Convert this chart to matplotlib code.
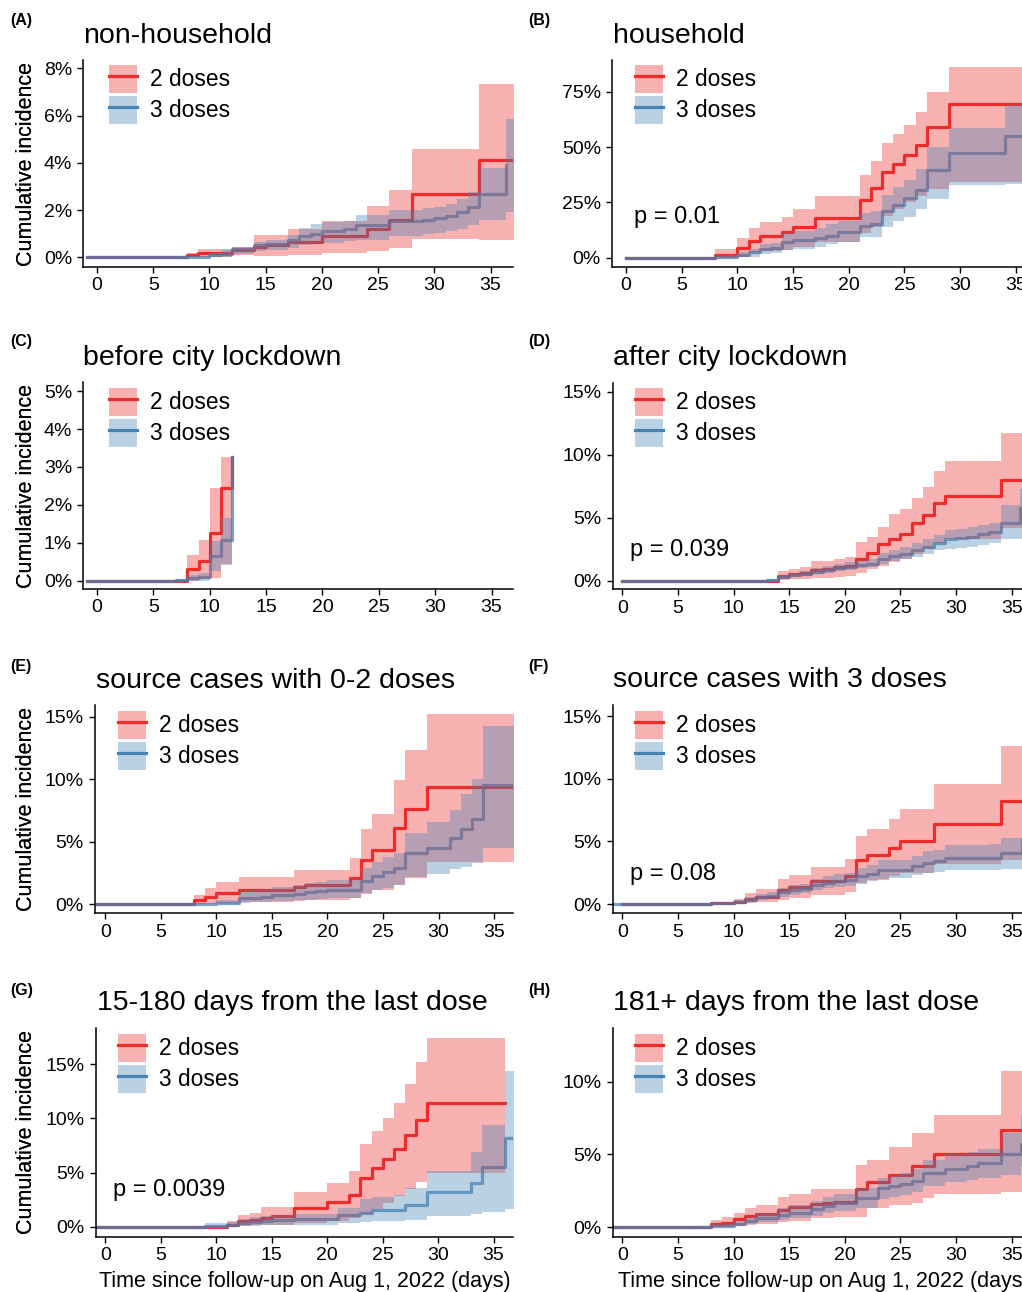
import numpy as np
import matplotlib
matplotlib.use('Agg')
import matplotlib.pyplot as plt
from matplotlib.patches import Patch
from matplotlib.lines import Line2D
from matplotlib.ticker import FuncFormatter

plt.rcParams['font.family'] = ['Liberation Sans', 'DejaVu Sans']

RED = '#EE2C2C'
BLUE = '#4682B4'
ALPHA = 0.37

# ---- data (cumulative incidence, %) ----
# (A) non-household
a2_t = [-0.9, 8, 9, 10, 12, 14, 15, 17, 18, 20, 24, 26, 28, 34]
a2_est = [0, 0.1, 0.17, 0.17, 0.3, 0.45, 0.5, 0.65, 0.65, 0.9, 1.2, 1.6, 2.7, 4.1]
a2_hi = [0, 0.17, 0.34, 0.34, 0.45, 0.95, 0.95, 1.18, 1.18, 1.55, 2.17, 2.85, 4.57, 7.32]
a2_lo = [0, 0, 0, 0.02, 0.1, 0.05, 0.06, 0.1, 0.1, 0.17, 0.27, 0.38, 0.76, 0.73]
a3_t = [-0.9, 7, 10, 11, 12, 14, 15, 17, 18, 19, 20, 22, 23, 26, 29, 30, 31, 32, 33, 34, 36.4]
a3_est = [0, 0.02, 0.1, 0.15, 0.35, 0.5, 0.55, 0.75, 0.9, 1.0, 1.1, 1.2, 1.35, 1.55, 1.6, 1.65, 1.75, 1.9, 2.15, 2.7, 3.9]
a3_hi = [0, 0.05, 0.2, 0.3, 0.45, 0.65, 0.72, 0.95, 1.25, 1.4, 1.5, 1.55, 1.77, 2.0, 2.1, 2.15, 2.25, 2.45, 2.75, 3.8, 5.85]
a3_lo = [0, 0, 0, 0.02, 0.15, 0.25, 0.3, 0.4, 0.5, 0.55, 0.6, 0.7, 0.75, 0.9, 1.0, 1.05, 1.1, 1.2, 1.35, 1.6, 1.9]

# (B) household
b2_t = [0, 8, 10, 11, 12, 14, 15, 17, 21, 22, 23, 24, 25, 26, 27, 29]
b2_est = [0, 1, 4.5, 7.5, 9.6, 11.6, 14, 18, 26, 31.6, 38.5, 42.5, 46.5, 51, 59, 69.5]
b2_hi = [0, 4, 9, 13.5, 16, 18.5, 22, 28, 37.5, 43.5, 52, 56, 60, 66, 75, 86]
b2_lo = [0, 0, 0.5, 2, 3, 3.5, 5, 7, 11, 14, 19, 22, 25, 28, 31, 34]
b3_t = [0, 8, 10, 11, 12, 13, 14, 15, 17, 18, 19, 21, 22, 23, 24, 25, 26, 27, 29, 34]
b3_est = [0, 0.3, 1, 2.5, 4, 4.5, 7.2, 8, 9, 10, 11.5, 14.5, 15, 21, 24, 27, 30.5, 39.5, 47.5, 55]
b3_hi = [0, 1, 2.5, 4, 6, 6.5, 11, 12, 13.5, 15, 16.5, 20, 21, 28.5, 32, 35, 40, 50, 58.7, 69]
b3_lo = [0, 0, 0.1, 0.5, 1.5, 2, 3.5, 4, 5, 6, 7, 9.5, 9.5, 14, 16.5, 18.5, 22, 26.5, 33, 33.5]

# (C) before city lockdown
c2_t = [-0.9, 8, 9, 10, 11, 12]
c2_est = [0, 0.3, 0.53, 1.27, 2.45, 3.25]
c2_hi = [0, 0.67, 1.08, 2.45, 3.25, 3.25]
c2_lo = [0, 0, 0.05, 0.06, 0.45, 0.45]
c3_t = [-0.9, 7, 8, 9, 10, 11, 12]
c3_est = [0, 0.02, 0.07, 0.1, 0.65, 1.07, 3.25]
c3_hi = [0, 0.05, 0.15, 0.2, 1.05, 1.65, 3.25]
c3_lo = [0, 0, 0, 0, 0.25, 0.42, 0.42]

# (D) after city lockdown
d2_t = [0, 14, 15, 16, 17, 18, 19, 20, 21, 22, 23, 24, 25, 26, 27, 28, 29, 34]
d2_est = [0, 0.35, 0.5, 0.6, 0.85, 0.9, 1.1, 1.2, 1.7, 2.2, 2.9, 3.3, 3.7, 4.6, 5.2, 6.2, 6.7, 8.0]
d2_hi = [0, 0.8, 0.95, 1.1, 1.6, 1.6, 1.7, 1.9, 3.1, 3.5, 4.3, 5.3, 5.7, 6.6, 7.4, 8.7, 9.5, 11.7]
d2_lo = [0, 0.05, 0.1, 0.12, 0.2, 0.22, 0.3, 0.35, 0.6, 0.9, 1.2, 1.5, 1.7, 2.1, 2.5, 3.0, 3.35, 4.15]
d3_t = [0, 13, 14, 15, 16, 17, 18, 19, 20, 21, 22, 23, 24, 25, 26, 27, 28, 29, 30, 31, 32, 33, 34, 35.75]
d3_est = [0, 0.05, 0.3, 0.45, 0.55, 0.7, 0.85, 1.0, 1.1, 1.25, 1.35, 1.7, 1.95, 2.15, 2.4, 2.7, 3.0, 3.3, 3.4, 3.5, 3.7, 3.9, 4.6, 5.8]
d3_hi = [0, 0.1, 0.45, 0.6, 0.8, 1.0, 1.15, 1.35, 1.45, 1.6, 1.75, 2.2, 2.45, 2.7, 3.0, 3.3, 3.6, 4.0, 4.1, 4.25, 4.4, 4.6, 6.0, 7.3]
d3_lo = [0, 0, 0.15, 0.3, 0.4, 0.5, 0.65, 0.8, 0.85, 1.0, 1.1, 1.35, 1.55, 1.7, 1.9, 2.15, 2.4, 2.5, 2.6, 2.7, 2.85, 3.0, 3.3, 3.3]

# (E) source cases with 0-2 doses
e2_t = [-0.93, 8, 9, 10, 12, 17, 18, 22, 23, 24, 26, 27, 29]
e2_est = [0, 0.3, 0.6, 0.85, 1.1, 1.4, 1.5, 2.1, 3.5, 4.3, 6.1, 7.6, 9.4]
e2_hi = [0, 0.7, 1.3, 1.75, 2.15, 2.7, 2.7, 3.7, 6.0, 7.2, 9.9, 12.3, 15.2]
e2_lo = [0, 0, 0.05, 0.1, 0.2, 0.25, 0.3, 0.5, 0.8, 1.1, 1.5, 2.1, 3.4]
e3_t = [-0.93, 8, 10, 12, 13, 14, 15, 17, 18, 19, 20, 23, 24, 25, 26, 27, 29, 31, 32, 33, 34]
e3_est = [0, 0.03, 0.1, 0.45, 0.5, 0.6, 0.7, 0.8, 0.95, 1.05, 1.1, 1.85, 2.25, 2.6, 2.85, 4.05, 4.5, 5.3, 6.0, 6.8, 9.5]
e3_hi = [0, 0.1, 0.3, 1.0, 1.1, 1.2, 1.35, 1.5, 1.7, 1.8, 1.9, 2.9, 3.4, 3.8, 4.1, 5.7, 6.6, 7.5, 8.8, 10.0, 14.25]
e3_lo = [0, 0, 0, 0.1, 0.15, 0.2, 0.25, 0.3, 0.35, 0.4, 0.45, 0.9, 1.1, 1.3, 1.5, 2.2, 2.4, 2.8, 3.0, 3.3, 4.5]

# (F) source cases with 3 doses
f2_t = [0, 8, 10, 11, 12, 14, 15, 17, 20, 21, 22, 24, 25, 28, 34]
f2_est = [0, 0.05, 0.15, 0.4, 0.6, 1.1, 1.35, 1.85, 2.2, 3.5, 3.9, 4.5, 5.0, 6.4, 8.2]
f2_hi = [0, 0.15, 0.4, 0.9, 1.2, 2.0, 2.3, 2.95, 3.6, 5.4, 5.95, 6.8, 7.6, 9.6, 12.6]
f2_lo = [0, 0, 0.03, 0.1, 0.15, 0.35, 0.45, 0.7, 0.95, 1.65, 1.9, 2.2, 2.5, 3.2, 3.55]
f3_t = [-0.95, 8, 10, 11, 12, 13, 14, 15, 16, 17, 18, 19, 20, 21, 22, 23, 24, 26, 27, 28, 29, 33, 34, 35.9]
f3_est = [0, 0.05, 0.2, 0.35, 0.55, 0.65, 0.95, 1.1, 1.2, 1.5, 1.7, 1.85, 1.9, 2.2, 2.4, 2.7, 2.75, 3.0, 3.3, 3.4, 3.65, 3.7, 4.05, 5.2]
f3_hi = [0, 0.1, 0.35, 0.55, 0.8, 0.95, 1.3, 1.5, 1.6, 2.0, 2.2, 2.4, 2.5, 2.85, 3.1, 3.5, 3.55, 3.85, 4.2, 4.35, 4.7, 4.75, 5.25, 7.3]
f3_lo = [0, 0, 0.08, 0.18, 0.3, 0.4, 0.6, 0.75, 0.85, 1.1, 1.25, 1.35, 1.4, 1.6, 1.8, 2.0, 2.05, 2.3, 2.5, 2.55, 2.7, 2.75, 2.8, 3.3]

# (G) 15-180 days from the last dose
g2_t = [-0.85, 11, 12, 13, 14, 15, 17, 20, 22, 23, 24, 25, 26, 27, 28, 29]
g2_est = [0, 0.2, 0.5, 0.6, 0.8, 0.95, 1.7, 2.25, 2.9, 4.5, 5.4, 6.2, 7.2, 8.5, 9.85, 11.4]
g2_hi = [0, 0.5, 1.1, 1.3, 1.8, 1.85, 3.2, 4.0, 5.1, 7.6, 8.8, 10.0, 11.4, 13.2, 15.2, 17.4]
g2_lo = [0, 0, 0.1, 0.12, 0.15, 0.2, 0.3, 0.5, 0.8, 1.2, 1.6, 2.2, 2.8, 3.5, 4.1, 5.0]
g3_t = [-0.85, 9, 11, 12, 13, 14, 15, 17, 21, 23, 24, 25, 26, 27, 29, 33, 34, 36]
g3_est = [0, 0.1, 0.15, 0.35, 0.45, 0.55, 0.65, 0.7, 1.1, 1.3, 1.5, 1.5, 1.5, 2.0, 3.2, 4.0, 5.5, 8.2]
g3_hi = [0, 0.3, 0.4, 0.75, 0.9, 1.0, 1.1, 1.2, 1.7, 2.6, 2.7, 2.75, 2.9, 3.6, 5.1, 6.9, 9.35, 14.4]
g3_lo = [0, 0, 0.02, 0.1, 0.1, 0.12, 0.15, 0.2, 0.35, 0.45, 0.5, 0.52, 0.55, 0.6, 1.0, 1.2, 1.35, 1.6]

# (H) 181+ days from the last dose
h2_t = [-0.8, 8, 9, 10, 11, 12, 14, 15, 17, 18, 19, 21, 22, 24, 26, 27, 28, 34]
h2_est = [0, 0.2, 0.3, 0.55, 0.75, 0.9, 1.2, 1.4, 1.6, 1.65, 1.75, 2.65, 3.1, 3.6, 4.2, 4.2, 5.0, 6.7]
h2_hi = [0, 0.5, 0.7, 1.0, 1.3, 1.5, 2.1, 2.3, 2.65, 2.65, 2.65, 4.3, 4.6, 5.5, 6.5, 6.5, 7.7, 10.7]
h2_lo = [0, 0, 0.03, 0.1, 0.15, 0.2, 0.35, 0.45, 0.6, 0.65, 0.7, 0.73, 1.3, 1.55, 1.65, 2.0, 2.25, 2.45]
h3_t = [-0.8, 7, 8, 10, 11, 12, 14, 15, 17, 18, 19, 21, 23, 24, 25, 26, 27, 28, 29, 31, 32, 34, 35.8]
h3_est = [0, 0.05, 0.1, 0.25, 0.4, 0.65, 0.85, 1.0, 1.25, 1.45, 1.65, 2.0, 2.7, 2.8, 2.95, 3.2, 3.7, 3.7, 4.0, 4.2, 4.4, 5.0, 5.7]
h3_hi = [0, 0.1, 0.2, 0.45, 0.7, 1.0, 1.3, 1.5, 1.8, 2.05, 2.3, 2.7, 3.4, 3.5, 3.7, 4.0, 4.6, 4.65, 5.0, 5.2, 5.4, 6.45, 7.7]
h3_lo = [0, 0, 0.03, 0.1, 0.2, 0.35, 0.5, 0.6, 0.8, 0.95, 1.1, 1.35, 1.95, 2.05, 2.2, 2.4, 2.8, 2.85, 3.1, 3.25, 3.4, 3.6, 4.2]

tags = ['(A)', '(B)', '(C)', '(D)', '(E)', '(F)', '(G)', '(H)']
titles = ['non-household', 'household', 'before city lockdown', 'after city lockdown',
          'source cases with 0-2 doses', 'source cases with 3 doses',
          '15-180 days from the last dose', '181+ days from the last dose']
pvals = [None, 'p = 0.01', None, 'p = 0.039', None, 'p = 0.08', 'p = 0.0039', None]
pval_y = [None, 18.5, None, 2.4, None, 2.4, 3.4, None]
yticks = [[0, 2, 4, 6, 8], [0, 25, 50, 75], [0, 1, 2, 3, 4, 5], [0, 5, 10, 15],
          [0, 5, 10, 15], [0, 5, 10, 15], [0, 5, 10, 15], [0, 5, 10]]
xticks = [0, 5, 10, 15, 20, 25, 30, 35]
xlabel = 'Time since follow-up on Aug 1, 2022 (days)'

W, H = 1022, 1292
fig = plt.figure(figsize=(W / 100, H / 100), dpi=100)

# layout in pixels: axes (left, right, top, bottom), limits, legend/title/tag spots
boxes = [(83.3, 513, 60, 267), (612, 1038, 60, 267),
         (83.3, 513, 382, 589), (612.7, 1034, 382.7, 589.3),
         (95, 513, 705, 913.3), (612.7, 1034, 705, 913.3),
         (95.7, 513, 1028.3, 1236.7), (612.7, 1034, 1028.3, 1236.7)]
xlims = [(-1.22, 37.0), (-1.26, 37.0), (-1.22, 36.9), (-0.86, 37.0),
         (-0.93, 36.7), (-0.86, 37.0), (-0.87, 36.75), (-0.86, 37.0)]
ylims = [(-0.41, 8.35), (-4.2, 89.3), (-0.22, 5.24), (-0.68, 15.71),
         (-0.74, 15.93), (-0.74, 15.88), (-0.92, 18.3), (-0.65, 13.66)]
leg_pos = [(109, 65), (635, 65), (109, 388), (635, 388),
           (118, 711), (635, 711), (118, 1034), (635, 1034)]
title_pos = [(83, 43), (613, 43), (83, 365), (613, 365),
             (96, 688), (613, 687), (97, 1010), (613, 1010)]
tag_pos = [(10, 20), (528, 20), (10, 342), (528, 342),
           (10, 667), (528, 667), (10, 990), (528, 990)]

red_series = [(a2_t, a2_est, a2_lo, a2_hi, 40, 40), (b2_t, b2_est, b2_lo, b2_hi, 40, 40),
              (c2_t, c2_est, c2_lo, c2_hi, 12, 12), (d2_t, d2_est, d2_lo, d2_hi, 40, 40),
              (e2_t, e2_est, e2_lo, e2_hi, 40, 40), (f2_t, f2_est, f2_lo, f2_hi, 40, 40),
              (g2_t, g2_est, g2_lo, g2_hi, 36, 36), (h2_t, h2_est, h2_lo, h2_hi, 40, 40)]
blue_series = [(a3_t, a3_est, a3_lo, a3_hi, 36.4, 40), (b3_t, b3_est, b3_lo, b3_hi, 40, 40),
               (c3_t, c3_est, c3_lo, c3_hi, 12, 12), (d3_t, d3_est, d3_lo, d3_hi, 40, 40),
               (e3_t, e3_est, e3_lo, e3_hi, 40, 40), (f3_t, f3_est, f3_lo, f3_hi, 40, 40),
               (g3_t, g3_est, g3_lo, g3_hi, 40, 40), (h3_t, h3_est, h3_lo, h3_hi, 40, 40)]


def extend(t, v, end):
    t = list(t)
    v = list(v)
    if end > t[-1]:
        t.append(end)
        v.append(v[-1])
    return t, v


def draw_group(ax, s, color, line_alpha):
    t, est, lo, hi, line_end, band_end = s
    tl, el = extend(t, est, line_end)
    ax.step(tl, el, where='post', color=color, lw=2.3, alpha=line_alpha, zorder=2)
    tb, lb = extend(t, lo, band_end)
    _, hb = extend(t, hi, band_end)
    ax.fill_between(tb, lb, hb, step='post', color=color, alpha=ALPHA, lw=0, zorder=3)


pct = FuncFormatter(lambda v, p: '%g%%' % v)

for i in range(8):
    l, r, t, b = boxes[i]
    ax = fig.add_axes([l / W, 1 - b / H, (r - l) / W, (b - t) / H])
    draw_group(ax, red_series[i], RED, 1.0)
    draw_group(ax, blue_series[i], BLUE, 0.75)
    ax.set_xlim(*xlims[i])
    ax.set_ylim(*ylims[i])
    ax.set_xticks(xticks)
    ax.set_yticks(yticks[i])
    ax.yaxis.set_major_formatter(pct)
    for side in ['top', 'right']:
        ax.spines[side].set_visible(False)
    for side in ['left', 'bottom']:
        ax.spines[side].set_linewidth(1.1)
    ax.tick_params(length=4, width=1, labelsize=14, colors='black')
    ax.tick_params(axis='x', pad=3.5)
    ax.tick_params(axis='y', pad=4)
    ax.set_ylabel('Cumulative incidence', fontsize=15.5)
    ax.yaxis.set_label_coords((37 - l) / (r - l), 0.5)

    handles = [(Patch(facecolor=RED, alpha=ALPHA, lw=0), Line2D([], [], color=RED, lw=2.3)),
               (Patch(facecolor=BLUE, alpha=ALPHA, lw=0), Line2D([], [], color=BLUE, lw=2.3))]
    lx, ly = leg_pos[i]
    ax.legend(handles, ['2 doses', '3 doses'], loc='upper left',
              bbox_to_anchor=(lx / W, 1 - ly / H), bbox_transform=fig.transFigure,
              frameon=False, fontsize=16.4, borderpad=0, borderaxespad=0,
              handlelength=1.23, handleheight=1.51, labelspacing=0.13, handletextpad=0.58)

    if pvals[i]:
        ax.text(0.7, pval_y[i], pvals[i], fontsize=17, ha='left', va='center')

    tx, ty = title_pos[i]
    fig.text(tx / W, 1 - ty / H, titles[i], fontsize=20.5, ha='left', va='baseline')
    gx, gy = tag_pos[i]
    fig.text(gx / W, 1 - gy / H, tags[i], fontsize=11.5, fontweight='bold', ha='left', va='center')

    if i >= 6:
        fig.text((l + r) / 2 / W, 1 - 1287 / H, xlabel, fontsize=15.5, ha='center', va='baseline')

fig.savefig('out.png', dpi=100)
